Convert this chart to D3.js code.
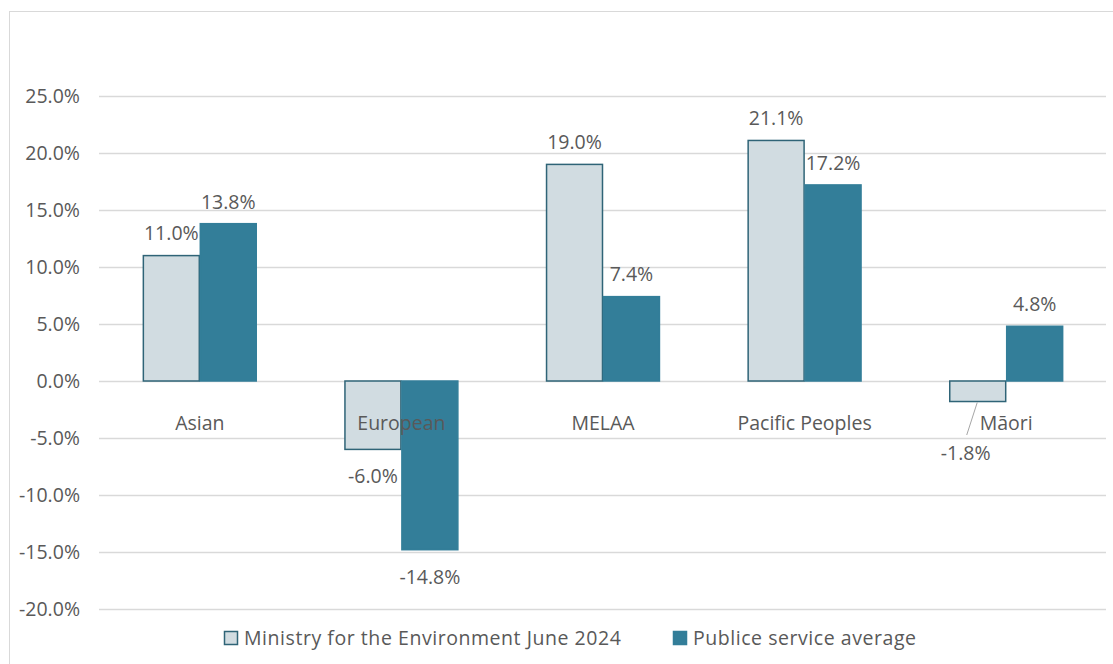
<!DOCTYPE html>
<html>
<head>
<meta charset="utf-8">
<script src="https://cdn.jsdelivr.net/npm/d3@7"></script>
<style>
  body { margin: 0; background: #fff; }
  svg text { font-family: "Open Sans", sans-serif; fill: #595959; }
</style>
</head>
<body>
<div class="chart"></div>
<script>
const categories = ["Asian", "European", "MELAA", "Pacific Peoples", "M\u0101ori"]
const seriesNames = ["Ministry for the Environment June 2024", "Publice service average"]
const ministryValues = [11.0, -6.0, 19.0, 21.1, -1.8]
const publicValues = [13.8, -14.8, 7.4, 17.2, 4.8]
const yTicks = [-20, -15, -10, -5, 0, 5, 10, 15, 20, 25]

const colors = ["#d1dce1", "#337e99"]
const strokes = ["#2f6477", "#337e99"]

const width = 1113, height = 664
const fontSize = "19.5px"

const svg = d3.select("div.chart")
    .append("svg")
    .attr("width", width)
    .attr("height", height)

// outer frame
svg.append("rect")
    .attr("x", 9.5).attr("y", 11.5)
    .attr("width", 1120).attr("height", 700)
    .attr("fill", "none")
    .attr("stroke", "#d9d9d9")

const x0 = d3.scaleBand()
    .domain(categories)
    .range([99, 1107])
    .paddingInner(0.435)
    .paddingOuter(0.2175)

const x1 = d3.scaleBand()
    .domain([0, 1])
    .range([0, x0.bandwidth()])

const y = d3.scaleLinear()
    .domain([-20, 25])
    .range([609, 96])

// gridlines
svg.append("g")
    .selectAll("line")
    .data(yTicks)
    .enter()
    .append("line")
    .attr("x1", 99).attr("x2", 1106)
    .attr("y1", d => Math.round(y(d)) + 0.5)
    .attr("y2", d => Math.round(y(d)) + 0.5)
    .attr("stroke", "#d9d9d9")
    .attr("stroke-width", 1.5)

// y axis labels
svg.append("g")
    .selectAll("text")
    .data(yTicks)
    .enter()
    .append("text")
    .attr("x", 80)
    .attr("y", d => y(d))
    .attr("dy", "0.35em")
    .attr("text-anchor", "end")
    .style("font-size", fontSize)
    .text(d => d.toFixed(1) + "%")

const rows = categories.map((c, i) => ({ cat: c, vals: [ministryValues[i], publicValues[i]] }))

// bars
const groups = svg.append("g")
    .selectAll("g")
    .data(rows)
    .enter()
    .append("g")
    .attr("transform", d => "translate(" + x0(d.cat) + ",0)")

groups.selectAll("rect")
    .data(d => d.vals.map((v, s) => ({ v: v, s: s })))
    .enter()
    .append("rect")
    .attr("x", d => x1(d.s) + 0.5)
    .attr("y", d => y(Math.max(0, d.v)))
    .attr("width", x1.bandwidth() - 1)
    .attr("height", d => Math.abs(y(d.v) - y(0)))
    .attr("fill", d => colors[d.s])
    .attr("stroke", d => strokes[d.s])
    .attr("stroke-width", 1.5)

// category labels
svg.append("g")
    .selectAll("text")
    .data(categories)
    .enter()
    .append("text")
    .attr("x", d => x0(d) + x0.bandwidth() / 2)
    .attr("y", y(0) + 42)
    .attr("dy", "0.35em")
    .attr("text-anchor", "middle")
    .style("font-size", fontSize)
    .text(d => d)

// value labels
const labelData = []
rows.forEach(r => r.vals.forEach((v, s) => labelData.push({ cat: r.cat, v: v, s: s })))

labelData.forEach(d => {
    const cx = x0(d.cat) + x1(d.s) + x1.bandwidth() / 2
    let ly
    if (d.v >= 0) {
        ly = y(d.v) - 22
    } else {
        ly = y(d.v) + 27
        // small negative bars: push label below the category label with a leader line
        if (y(d.v) - y(0) < 40) {
            const lx = cx - 12
            ly = y(0) + 72
            svg.append("line")
                .attr("x1", cx - 0.5).attr("y1", y(d.v) + 1)
                .attr("x2", lx + 1).attr("y2", ly - 18)
                .attr("stroke", "#a6a6a6")
                .attr("stroke-width", 1)
            svg.append("text")
                .attr("x", lx)
                .attr("y", ly)
                .attr("dy", "0.35em")
                .attr("text-anchor", "middle")
                .style("font-size", fontSize)
                .text(d.v.toFixed(1) + "%")
            return
        }
    }
    svg.append("text")
        .attr("x", cx)
        .attr("y", ly)
        .attr("dy", "0.35em")
        .attr("text-anchor", "middle")
        .style("font-size", fontSize)
        .text(d.v.toFixed(1) + "%")
})

// legend
const legendX = [224, 673]
const legend = svg.append("g")
    .selectAll("g")
    .data(seriesNames)
    .enter()
    .append("g")
    .attr("transform", (d, i) => "translate(" + legendX[i] + ",631)")

legend.append("rect")
    .attr("x", 0.5).attr("y", 0.5)
    .attr("width", 13).attr("height", 13)
    .attr("fill", (d, i) => colors[i])
    .attr("stroke", (d, i) => strokes[i])
    .attr("stroke-width", 1.5)

legend.append("text")
    .attr("x", 20)
    .attr("y", 7)
    .attr("dy", "0.35em")
    .style("font-size", fontSize)
    .style("letter-spacing", "0.55px")
    .text(d => d)
</script>
</body>
</html>
